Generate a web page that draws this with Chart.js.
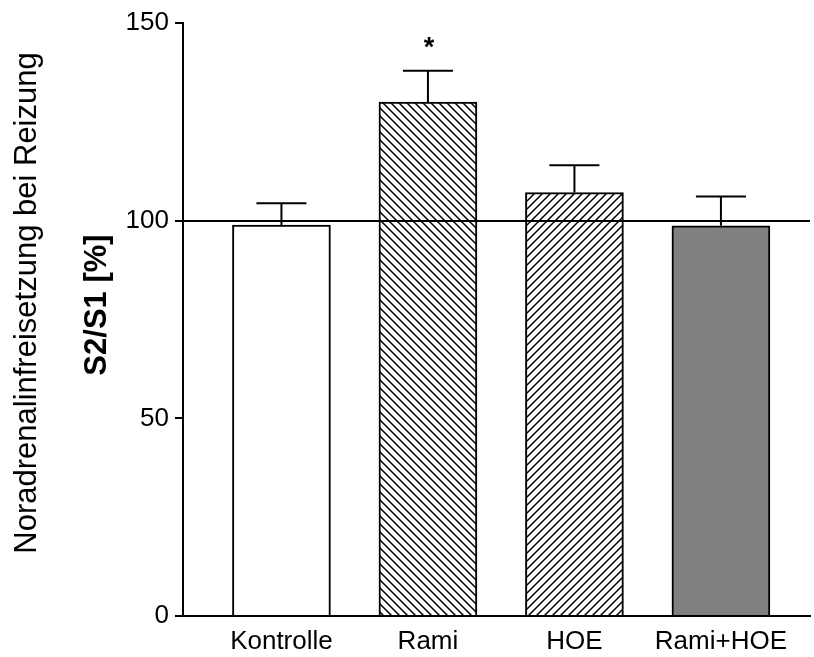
<!DOCTYPE html>
<html>
<head>
<meta charset="utf-8">
<script src="https://cdn.jsdelivr.net/npm/chart.js@4"></script>
<style>
  html, body { margin: 0; padding: 0; background: #fff; }
  #wrap { width: 814px; height: 657px; }
</style>
</head>
<body>
<div id="wrap"><canvas id="c"></canvas></div>
<script>
'use strict';

// ---- data ----
const categories = ['Kontrolle', 'Rami', 'HOE', 'Rami+HOE'];
const means = [98.9, 130.0, 107.1, 98.7];
const errors = [5.5, 7.9, 6.9, 7.4];
const marks = ['', '*', '', ''];
const yMin = 0, yMax = 150, yStep = 50;
const referenceValue = 100;

const FONT = "'Liberation Sans', Arial, Helvetica, sans-serif";

// ---- hatch helper ----
function hatch(dir, size, lw) {
  const c = document.createElement('canvas');
  c.width = size; c.height = size;
  const g = c.getContext('2d');
  g.fillStyle = '#fff'; g.fillRect(0, 0, size, size);
  g.strokeStyle = '#000'; g.lineWidth = lw;
  g.beginPath();
  if (dir === '\\') {
    g.moveTo(-size, 0); g.lineTo(size, size * 2);
    g.moveTo(0, 0); g.lineTo(size, size);
    g.moveTo(0, -size); g.lineTo(size * 2, size);
  } else {
    g.moveTo(0, size); g.lineTo(size, 0);
    g.moveTo(-size, size); g.lineTo(size, -size);
    g.moveTo(0, size * 2); g.lineTo(size * 2, 0);
  }
  g.stroke();
  return g.createPattern(c, 'repeat');
}

const fills = ['#ffffff', hatch('\\', 8, 1.5), hatch('/', 8, 1.5), '#808080'];

// ---- overlay: reference line, error bars, marks, axis captions ----
const overlay = {
  id: 'overlay',
  afterDatasetsDraw(chart) {
    const { ctx, chartArea, scales: { y } } = chart;
    const meta = chart.getDatasetMeta(0);
    ctx.save();
    ctx.strokeStyle = '#000';
    ctx.lineWidth = 2;

    // 100% line
    const yr = Math.round(y.getPixelForValue(referenceValue));
    ctx.beginPath();
    ctx.moveTo(chartArea.left, yr); ctx.lineTo(chartArea.right, yr);
    ctx.stroke();

    // error bars (upper only)
    meta.data.forEach((bar, i) => {
      const yt = y.getPixelForValue(means[i]);
      const ye = y.getPixelForValue(means[i] + errors[i]);
      ctx.beginPath();
      ctx.moveTo(bar.x, yt); ctx.lineTo(bar.x, ye);
      ctx.moveTo(bar.x - 25, ye); ctx.lineTo(bar.x + 25, ye);
      ctx.stroke();
      if (marks[i]) {
        ctx.fillStyle = '#000';
        ctx.font = 'bold 27px ' + FONT;
        ctx.textAlign = 'center';
        ctx.textBaseline = 'alphabetic';
        ctx.fillText(marks[i], bar.x + 1, ye - 15);
      }
    });

    // axis captions
    ctx.fillStyle = '#000';
    ctx.textAlign = 'center';
    ctx.textBaseline = 'middle';
    ctx.save();
    ctx.font = '31px ' + FONT;
    ctx.translate(27, 303);
    ctx.rotate(-Math.PI / 2);
    ctx.fillText('Noradrenalinfreisetzung bei Reizung', 0, 0);
    ctx.restore();
    ctx.font = 'bold 31px ' + FONT;
    ctx.translate(97, 305);
    ctx.rotate(-Math.PI / 2);
    ctx.fillText('S2/S1 [%]', 0, 0);
    ctx.restore();
  }
};

new Chart(document.getElementById('c').getContext('2d'), {
  type: 'bar',
  data: {
    datasets: [{
      data: categories.map((c, i) => ({ x: i, y: means[i] })),
      backgroundColor: fills,
      borderColor: '#000',
      borderWidth: 2,
      borderSkipped: 'bottom',
      barThickness: 98
    }]
  },
  options: {
    responsive: true,
    maintainAspectRatio: false,
    animation: false,
    layout: { padding: { top: 23, right: 4, left: 0, bottom: 0 } },
    plugins: { legend: { display: false }, tooltip: { enabled: false } },
    scales: {
      x: {
        type: 'linear',
        offset: false,
        min: -0.672, max: 3.608,
        grid: { display: false, drawTicks: false },
        border: { display: true, color: '#000', width: 2 },
        afterBuildTicks: (s) => { s.ticks = categories.map((c, i) => ({ value: i })); },
        afterFit: (s) => { s.height = 41; },
        ticks: {
          autoSkip: false, maxRotation: 0, padding: 10,
          color: '#000', font: { family: FONT, size: 26 },
          callback: (v) => categories[v]
        }
      },
      y: {
        min: yMin, max: yMax,
        grid: { display: true, drawOnChartArea: false, tickLength: 8, color: '#000', lineWidth: 2 },
        border: { display: true, color: '#000', width: 2 },
        afterFit: (s) => { s.width = 183; },
        ticks: {
          stepSize: yStep, padding: 6,
          color: '#000', font: { family: FONT, size: 26 }
        }
      }
    }
  },
  plugins: [overlay]
});
</script>
</body>
</html>
